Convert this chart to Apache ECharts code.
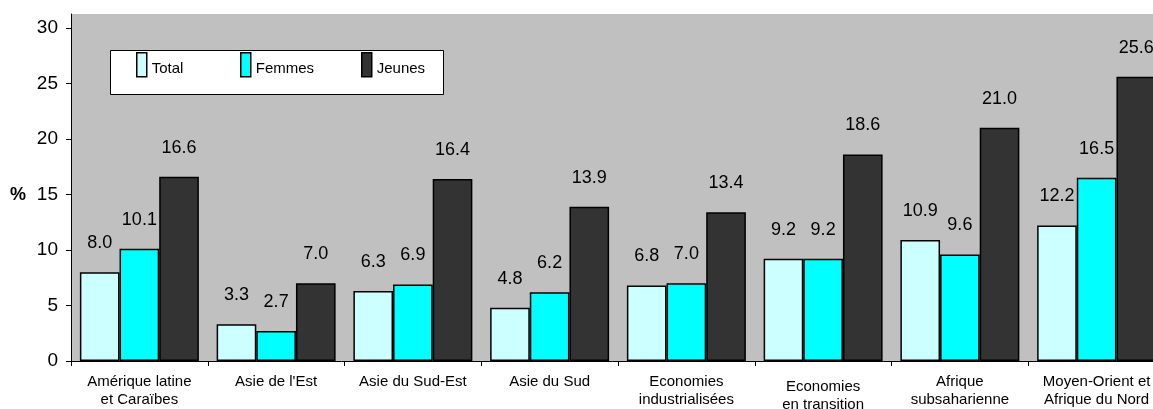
<!DOCTYPE html>
<html>
<head>
<meta charset="utf-8">
<script src="https://cdn.jsdelivr.net/npm/echarts@6/dist/echarts.min.js"></script>
<style>
  html, body { margin: 0; padding: 0; background: #fff; }
  #chart { width: 1153px; height: 409px; }
</style>
</head>
<body>
<div id="chart"></div>
<script>
// Regions (two-line labels use \n)
const categories = [
  'Amérique latine\net Caraïbes',
  "Asie de l'Est",
  'Asie du Sud-Est',
  'Asie du Sud',
  'Economies\nindustrialisées',
  'Economies\nen transition',
  'Afrique\nsubsaharienne',
  'Moyen-Orient et\nAfrique du Nord'
];

// Unemployment rates, %
const total  = [8.0, 3.3, 6.3, 4.8, 6.8, 9.2, 10.9, 12.2];
const femmes = [10.1, 2.7, 6.9, 6.2, 7.0, 9.2, 9.6, 16.5];
const jeunes = [16.6, 7.0, 16.4, 13.9, 13.4, 18.6, 21.0, 25.6];

const seriesNames = ['Total', 'Femmes', 'Jeunes'];
const seriesColors = ['#CCFFFF', '#00FFFF', '#333333'];
const seriesData = [total, femmes, jeunes];

const FONT = 'Liberation Sans, Arial, sans-serif';

const chart = echarts.init(document.getElementById('chart'), null, { renderer: 'canvas' });

const legendLeft = [131, 235, 356];

const option = {
  animation: false,
  backgroundColor: '#ffffff',
  grid: {
    left: 71, top: 14, width: 1094, bottom: 48,
    outerBoundsMode: 'none',
    containLabel: false,
    show: true, backgroundColor: '#C0C0C0', borderWidth: 0
  },
  graphic: [
    {
      type: 'rect', z: 3,
      shape: { x: 110.5, y: 50.5, width: 333, height: 44 },
      style: { fill: '#ffffff', stroke: '#000000', lineWidth: 1 }
    },
    {
      type: 'text', z: 3, left: 10, top: 186,
      style: { text: '%', fill: '#000', font: 'bold 18px ' + FONT }
    }
  ],
  legend: seriesNames.map((name, i) => ({
    data: [name],
    left: legendLeft[i],
    top: 47,
    z: 6,
    icon: 'rect',
    itemWidth: 10,
    itemHeight: 24,
    itemStyle: { borderColor: '#000', borderWidth: 1.5 },
    formatter: '{t|{name}}',
    textStyle: {
      fontFamily: FONT, fontSize: 15, color: '#000',
      rich: { t: { fontFamily: FONT, fontSize: 15, color: '#000', padding: [9, 0, 0, 0] } }
    }
  })),
  xAxis: {
    type: 'category',
    data: categories.map(c => c === 'Economies\nen transition'
      ? { value: c, textStyle: { padding: [5, 0, 0, 0] } }
      : c),
    axisLine: { lineStyle: { color: '#000', width: 1 } },
    axisTick: { show: true, length: 5, lineStyle: { color: '#000' } },
    axisLabel: {
      interval: 0, margin: 12, fontFamily: FONT, fontSize: 15,
      lineHeight: 18, color: '#000'
    },
    splitLine: { show: false }
  },
  yAxis: {
    type: 'value',
    min: 0, max: 31.25, interval: 5,
    axisLine: { show: true, lineStyle: { color: '#000', width: 1 } },
    axisTick: { show: true, length: 5, lineStyle: { color: '#000' } },
    axisLabel: {
      showMaxLabel: false, margin: 13, fontFamily: FONT, fontSize: 19, color: '#000'
    },
    splitLine: { show: false }
  },
  series: seriesNames.map((name, i) => ({
    name: name,
    type: 'bar',
    data: seriesData[i],
    barGap: '0%',
    barCategoryGap: '13%',
    itemStyle: { color: seriesColors[i], borderColor: '#000', borderWidth: 1.5 },
    label: {
      show: true, position: 'top', distance: 20,
      fontFamily: FONT, fontSize: 18, color: '#000',
      formatter: p => p.value.toFixed(1)
    }
  }))
};

chart.setOption(option);
</script>
</body>
</html>
